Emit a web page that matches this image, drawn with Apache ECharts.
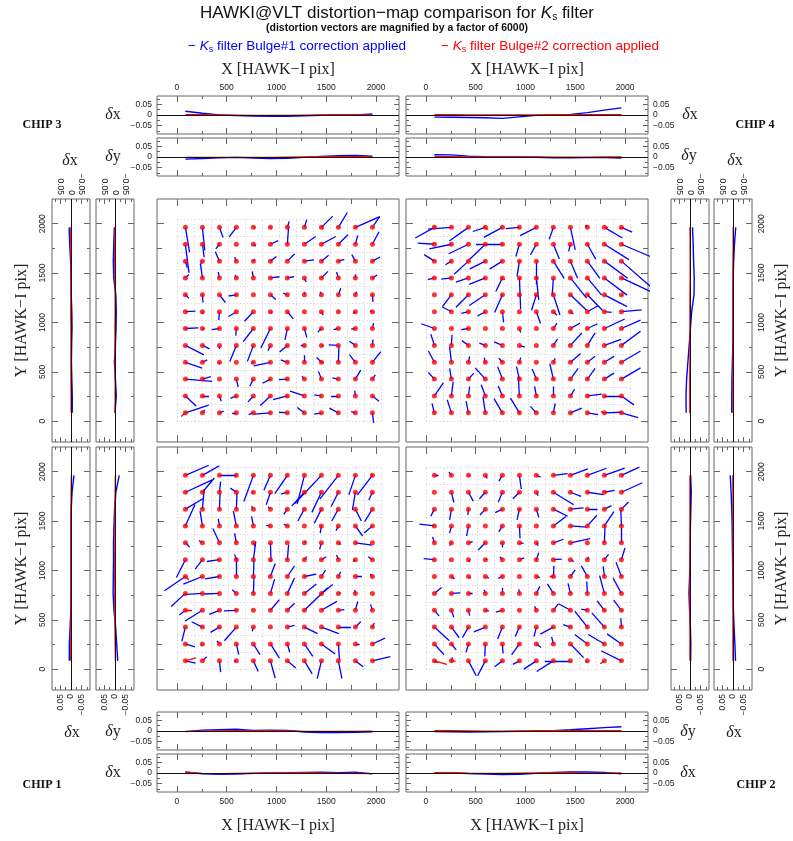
<!DOCTYPE html>
<html>
<head>
<meta charset="utf-8">
<script src="https://cdn.jsdelivr.net/npm/echarts@6/dist/echarts.min.js"></script>
<style>
  html, body { margin: 0; padding: 0; background: #fff; }
  #chart { width: 793px; height: 841px; }
</style>
</head>
<body>
<div id="chart"></div>
<script>
// ---------------------------------------------------------------------------
// Grid-point centres (HAWK-I pixels), used for both X and Y
const GRID_POS = [85, 256, 427, 597, 768, 939, 1109, 1280, 1451, 1621, 1792, 1963];
const DETECTOR = 2048;
const MAGNIFY = 6000;                 // vectors are drawn magnified by this factor
const POS_MAJOR = [0, 500, 1000, 1500, 2000];
const POS_MINOR = [250, 750, 1250, 1750];
const D_MAJOR = [-0.05, 0, 0.05];
const D_MINOR = [-0.075, -0.025, 0.025, 0.075];

// Bulge#1 residual distortion per grid point, in milli-pixels.
// One row per Y row, top row (Y = 1963) first; columns follow X.
const CHIP3_DX = [
  [7, 4, 6, -12, 2, 2, 3, 4, 19, 15, 41, 12],
  [6, 3, -6, 0, 4, 13, 2, 19, 24, 16, 4, 11],
  [3, -4, -7, -3, 3, 10, 12, 16, 12, 10, -6, 13],
  [6, -3, -2, -2, -2, 15, 11, 3, 11, -3, 0, 8],
  [6, 1, 10, -13, 0, 9, -7, 0, -2, 4, 2, 1],
  [17, 1, -1, -13, -15, 3, 10, 0, 3, 1, -4, -4],
  [22, 3, -13, -1, -17, -16, -4, 4, -6, -8, -7, 2],
  [31, 12, 0, -11, -10, -4, -13, -6, 3, -16, -10, 1],
  [28, 8, 0, 0, -4, -28, -11, 0, -8, 1, -10, 14],
  [45, 14, 0, 3, -6, -13, -14, -4, -5, -10, 9, 5],
  [18, 11, 3, -10, -9, -17, -24, -24, -12, -12, -1, 11],
  [39, 4, 7, -7, -8, -27, -14, -12, -12, -15, -7, 2]
];
const CHIP3_DY = [
  [-42, -39, -17, -16, 0, -1, 10, 13, 19, 25, 18, 18],
  [-48, -22, -8, 0, -3, 6, 29, 13, 13, 16, 15, 21],
  [-11, -7, 16, 7, 3, 8, 12, 2, 10, 3, 11, 7],
  [6, 22, 10, 5, 11, 2, 2, -7, 11, 10, 6, 5],
  [-6, -13, -13, -2, 0, -8, 3, 5, 5, 11, 5, -12],
  [1, -4, -14, -8, -16, -2, -12, 0, -6, 0, -3, 1],
  [1, 0, -2, -12, -22, -33, -19, -15, -6, -2, -1, 9],
  [-16, -6, -6, -27, -27, -9, -11, 0, 0, 1, 7, 10],
  [-10, 4, -3, 0, -2, -6, 4, 12, 8, 27, 13, 18],
  [-4, 4, 0, -13, -12, -7, -1, 5, 13, 2, 15, 7],
  [-17, 0, -9, -4, -10, -16, -6, 8, 2, 0, 9, -9],
  [13, 5, 3, 0, -3, -2, 1, 9, -2, 8, 2, -17]
];
const CHIP4_DX = [
  [-32, -39, -32, -21, -31, -23, -27, -7, 8, -3, 30, 18],
  [-28, -37, -33, -28, -44, -6, -10, 10, -3, 14, 41, 49],
  [-17, -10, -24, -26, -21, -4, 0, 18, 12, 21, 39, 49],
  [-11, -17, -21, -27, -11, 2, 4, -2, 27, 24, 38, 49],
  [0, -15, -21, -27, -13, 0, -8, 11, 27, 26, 38, 2],
  [0, -15, -12, -13, 2, 0, 7, 6, 5, 18, 12, 34],
  [-22, 0, -12, 0, 0, 2, 0, 6, 16, 17, 34, 32],
  [-6, 1, -11, -10, -14, 9, 0, 7, 19, 13, 28, 32],
  [-10, -3, 2, -2, -6, 2, 0, 3, 17, 13, 16, 32],
  [-10, -3, 9, -17, -8, -5, -7, -6, 13, 13, 16, 32],
  [15, 3, 2, -7, -7, -2, -3, 0, 7, 24, 29, 21],
  [-4, -7, -4, -4, -14, -15, -10, 3, 19, 18, 29, 28]
];
const CHIP4_DY = [
  [-18, -3, -23, -7, -17, -2, -14, -20, -38, 4, -18, -8],
  [2, -8, -16, -27, 0, -21, -18, -25, -12, -25, -26, -21],
  [11, -6, -22, -13, -13, -26, -39, -29, -29, -29, -29, -43],
  [-3, -2, -7, -11, -23, -53, -37, -29, -34, -29, -29, -23],
  [0, -20, -21, -18, -30, -3, -26, -34, -26, -27, -20, 0],
  [0, 8, -3, -7, -18, 0, -20, -6, -4, 10, -1, 3],
  [8, -1, -2, 0, 0, -7, 0, 9, 9, 8, 16, 14],
  [19, 18, 8, 4, 6, -3, 0, 11, 21, 21, 10, 24],
  [19, 26, 10, 8, 7, 8, 0, 7, 15, 10, 10, 19],
  [11, 18, 10, 19, 21, 21, 17, 26, 18, 18, 10, 19],
  [22, 24, 16, 19, 17, 33, 16, 16, 11, 3, 0, -15],
  [16, 22, 20, 27, 24, 25, 11, 16, 8, -3, 1, -8]
];
const CHIP1_DX = [
  [39, 28, 28, 0, -16, -11, -21, -12, -45, -31, -11, -25],
  [45, 20, 2, -10, -3, -7, -11, -21, -16, -12, -5, -6],
  [30, 3, 1, 1, -3, -4, -6, -11, -12, -11, 10, -13],
  [16, -4, -2, -5, -3, -7, -6, 0, -2, -4, 12, -14],
  [7, -6, -11, -3, 3, 1, 0, 3, -3, 4, 28, 0],
  [-15, -12, -21, -3, 4, 0, 2, 4, 8, -3, -4, -7],
  [-35, -32, -24, 0, 1, 8, 12, 20, 7, 4, 11, -4],
  [-24, -32, -26, -7, 1, 7, 12, 20, 19, 4, -1, 0],
  [-10, -29, -17, -21, 0, 15, 12, 39, 26, 10, 4, -3],
  [-6, -18, -15, -20, -2, 0, 12, 22, 29, 21, 9, 3],
  [16, -2, -4, 4, 11, 15, 4, 14, 23, 2, 7, 21],
  [17, 7, 2, -4, 8, 8, 14, 13, -7, 6, 13, 30]
];
const CHIP1_DY = [
  [17, 16, 0, 0, -44, -25, -31, -48, -48, -40, -33, -33],
  [21, 24, 18, 7, 0, -21, -3, -23, -34, -24, -30, -13],
  [18, 34, 27, 27, 5, 4, -9, -20, -24, -20, -20, -21],
  [36, 25, 12, 25, 16, 1, 3, 0, -12, -8, -17, -12],
  [-7, 4, 24, 16, -6, -31, 0, 3, -11, -3, -4, 0],
  [-30, -16, -3, 9, 31, -3, 25, 5, 5, 8, -3, 5],
  [-24, -13, -4, 32, 28, 22, 18, 4, 11, 8, 0, 4],
  [-22, -2, -1, 6, 28, 24, 26, 16, 15, 1, 6, 0],
  [-8, -18, -7, -1, 0, 18, 12, 38, 15, 1, 15, 10],
  [-24, 9, -9, -23, -7, 0, 3, -11, -11, 0, 9, 7],
  [-5, -3, 5, -18, -18, -24, -14, -21, -17, -27, 0, 10],
  [-4, 7, -19, -1, -18, -29, -12, -22, -30, -30, -10, 7]
];
const CHIP2_DX = [
  [7, -4, 3, 3, -6, 3, 7, 24, 29, 32, 34, 30],
  [0, 4, 8, -10, -7, -11, 3, 34, 18, 27, 17, 35],
  [-6, -3, -1, -9, -12, -4, 4, 24, 22, 17, 12, 12],
  [-25, -3, -3, 0, -6, 1, 0, 21, 27, 16, 16, -1],
  [-3, -3, 7, -12, 0, 7, 3, 17, 33, 0, 1, 0],
  [-18, 0, 2, 3, -4, 8, 4, 14, 6, 2, 7, 6],
  [0, 5, 4, 6, -7, 0, 6, 1, 8, -10, -2, -9],
  [12, 15, 7, -2, 0, -1, 6, -10, -4, -1, -8, -14],
  [8, 4, 2, 6, -11, 0, -3, 8, -20, -10, -12, -13],
  [25, 13, -10, -19, -8, -7, -4, -22, -12, -21, -21, -1],
  [16, 8, -4, -1, 1, -13, 8, -3, 22, -21, -27, -24],
  [6, 2, 13, -13, -13, -11, -21, -28, -43, -3, 0, -34]
];
const CHIP2_DY = [
  [0, 6, 0, -5, -10, -23, -3, 3, 11, 12, 12, 14],
  [0, -17, -15, -11, -17, -11, -6, -21, -7, -4, 3, 16],
  [-12, -18, -10, -10, -6, -18, -14, -12, 2, 0, 6, 12],
  [3, -12, -17, 0, -10, -21, 0, 16, -2, 18, 24, 28],
  [10, -5, 2, -12, -8, -1, -5, 6, 7, 0, 27, 25],
  [2, 0, -4, 1, 5, 3, 12, 1, -3, 5, 9, 20],
  [0, -4, -3, -3, -3, 0, -2, 18, 11, 18, 17, 24],
  [10, 1, 0, 6, 9, 7, 12, 16, 17, 20, 30, 26],
  [-10, -12, -9, -1, -3, 0, 7, 11, 11, 2, 16, 17],
  [-23, -18, -18, -8, -20, -16, -16, -12, 4, 27, 24, 15],
  [-18, -10, -14, -21, -16, -18, -6, 12, -23, 16, 16, 17],
  [-3, 6, -25, -25, -10, -6, -14, -18, 0, 0, 0, 17]
];

// Bulge#2 residuals that are large enough to show: [column, row from bottom, dx, dy] in milli-pixels
const CHIP3_RED = [[0, 0, -7, -6], [8, 3, 4, 0], [8, 11, 3, -3]];
const CHIP4_RED = [[0, 11, 0, 3], [3, 11, 4, -4], [9, 11, -4, 3], [10, 11, 6, 0], [11, 11, -3, -3], [4, 8, 4, -3], [10, 0, -6, 2]];
const CHIP1_RED = [[0, 0, 18, 5], [0, 3, 11, 0], [0, 5, 6, -6], [3, 11, -3, -3], [11, 11, -3, 2]];
const CHIP2_RED = [[0, 0, 21, -6], [1, 0, 7, -1], [7, 5, -6, 0], [10, 0, -7, -5]];

// Mean residual profiles (pixels) at the grid positions: blue = Bulge#1, red = Bulge#2
const C3_DX_VS_X_B = [0.018, 0.008, 0.000, -0.003, -0.005, -0.006, -0.006, -0.004, -0.001, 0.001, 0.000, 0.005];
const C3_DX_VS_X_R = [0.002, 0.001, 0.000, -0.001, -0.002, -0.002, -0.002, -0.001, 0.000, 0.001, 0.000, 0.002];
const C3_DY_VS_X_B = [-0.010, -0.007, -0.004, -0.002, -0.005, -0.007, -0.006, -0.002, 0.003, 0.006, 0.007, 0.004];
const C3_DY_VS_X_R = [-0.002, -0.002, -0.002, -0.002, -0.002, -0.002, -0.001, 0.000, 0.001, 0.001, 0.001, 0.001];
const C3_DX_VS_Y_B = [-0.006, -0.006, -0.004, -0.002, -0.003, -0.005, -0.004, -0.001, 0.000, 0.002, 0.006, 0.009];
const C3_DX_VS_Y_R = [-0.001, -0.001, 0.000, 0.000, 0.000, 0.000, 0.001, 0.000, 0.000, 0.000, 0.001, 0.001];
const C3_DY_VS_Y_B = [0.000, -0.006, -0.002, 0.003, -0.002, -0.005, -0.006, -0.004, 0.006, 0.008, 0.006, 0.003];
const C3_DY_VS_Y_R = [0.000, -0.001, -0.001, 0.000, 0.000, 0.000, -0.001, -0.001, 0.000, 0.001, 0.001, 0.000];

const C4_DX_VS_X_B = [-0.010, -0.011, -0.012, -0.013, -0.016, -0.009, -0.002, -0.001, 0.003, 0.011, 0.023, 0.034];
const C4_DX_VS_X_R = [0.001, 0.001, 0.000, 0.000, 0.000, 0.000, 0.000, 0.001, 0.001, 0.001, 0.001, 0.001];
const C4_DY_VS_X_B = [0.011, 0.010, 0.004, 0.001, 0.000, 0.000, -0.001, -0.004, -0.004, -0.003, -0.003, -0.005];
const C4_DY_VS_X_R = [0.001, 0.001, 0.000, 0.000, 0.000, 0.000, 0.000, -0.001, -0.001, -0.001, 0.000, 0.000];
const C4_DX_VS_Y_B = [0.006, 0.006, 0.005, 0.003, 0.001, 0.000, 0.000, 0.000, -0.001, -0.003, -0.007, -0.013];
const C4_DX_VS_Y_R = [0.000, 0.000, 0.000, 0.000, 0.000, 0.000, 0.000, 0.000, 0.000, 0.000, -0.001, -0.001];
const C4_DY_VS_Y_B = [0.018, 0.019, 0.016, 0.010, 0.004, -0.002, -0.008, -0.019, -0.020, -0.017, -0.015, -0.012];
const C4_DY_VS_Y_R = [0.001, 0.001, 0.001, 0.000, 0.000, 0.000, 0.000, 0.000, -0.001, -0.001, -0.001, 0.000];

const C1_DX_VS_X_B = [0.005, -0.004, -0.006, -0.005, -0.002, 0.000, 0.001, 0.003, 0.004, 0.002, 0.004, -0.004];
const C1_DX_VS_X_R = [0.004, -0.002, -0.003, -0.002, -0.001, 0.000, 0.000, 0.001, 0.000, -0.002, -0.001, -0.003];
const C1_DY_VS_X_B = [-0.003, 0.004, 0.006, 0.008, 0.003, 0.004, 0.003, -0.005, -0.007, -0.007, -0.006, -0.004];
const C1_DY_VS_X_R = [-0.002, -0.001, 0.000, 0.001, 0.000, 0.001, 0.000, -0.002, -0.002, -0.002, -0.002, -0.001];
const C1_DX_VS_Y_B = [0.008, 0.008, 0.004, 0.001, 0.000, 0.000, 0.000, 0.000, 0.000, -0.001, -0.005, -0.014];
const C1_DX_VS_Y_R = [0.001, 0.001, 0.000, 0.000, 0.000, 0.000, 0.000, 0.000, 0.000, 0.000, -0.001, -0.002];
const C1_DY_VS_Y_B = [-0.013, -0.008, -0.003, 0.005, 0.009, 0.008, 0.007, 0.007, 0.005, 0.002, -0.004, -0.020];
const C1_DY_VS_Y_R = [-0.002, -0.001, 0.000, 0.001, 0.001, 0.001, 0.001, 0.000, 0.000, 0.000, -0.001, -0.002];

const C2_DX_VS_X_B = [0.002, 0.001, -0.003, -0.005, -0.007, -0.006, -0.002, 0.003, 0.005, 0.005, 0.003, -0.004];
const C2_DX_VS_X_R = [0.001, 0.001, -0.001, -0.002, -0.002, -0.001, 0.000, 0.001, 0.001, -0.002, -0.001, 0.000];
const C2_DY_VS_X_B = [-0.003, -0.004, -0.005, -0.004, -0.003, -0.002, -0.002, 0.002, 0.006, 0.011, 0.016, 0.020];
const C2_DY_VS_X_R = [0.002, 0.001, 0.000, -0.001, -0.001, 0.000, 0.001, 0.002, 0.002, 0.001, 0.001, 0.001];
const C2_DX_VS_Y_B = [-0.012, -0.009, -0.005, -0.002, 0.000, 0.001, 0.002, 0.003, 0.004, 0.006, 0.009, 0.013];
const C2_DX_VS_Y_R = [0.000, 0.000, 0.000, 0.000, 0.000, 0.000, 0.000, 0.000, 0.000, 0.000, 0.000, 0.001];
const C2_DY_VS_Y_B = [-0.003, -0.004, -0.002, 0.002, 0.005, 0.002, 0.000, -0.001, -0.002, -0.004, -0.006, -0.003];
const C2_DY_VS_Y_R = [0.000, 0.000, 0.000, 0.000, 0.001, 0.000, 0.000, 0.000, 0.000, 0.000, 0.000, 0.000];

// ---------------------------------------------------------------------------
// Styling and layout
const BLUE = '#0000ff', RED = '#ff0000', FRAME = '#666666';
const TICK_FONT = 'Liberation Sans', TICK_SIZE = 8.5, TICK_COLOR = '#222';
const LABEL_FONT = 'Liberation Serif';
const X_RANGE = [-200, 2230], Y_RANGE = [-210, 2250], D_RANGE = [-0.09, 0.09];
const PANEL_W = 242, PANEL_H = 243, STRIP = 38;
const COL_L = 157, COL_R = 406, ROW_T = 199, ROW_B = 447;

const grids = [], xAxes = [], yAxes = [], series = [], texts = [];

function fmt(v) {
  if (v === 0) return '0';
  return v < 0 ? '\u2212' + String(Math.abs(v)) : String(v);
}

function addGrid(left, top, width, height) {
  grids.push({ left, top, width, height, show: true, borderColor: FRAME, borderWidth: 1,
    backgroundColor: 'transparent', containLabel: false });
  return grids.length - 1;
}

// one side of a frame: long ticks (optionally labelled) plus short ticks
function side(list, gi, position, range, inverse, major, minor, majLen, minLen, label) {
  const base = { type: 'value', gridIndex: gi, position, min: range[0], max: range[1], inverse: !!inverse,
    axisLine: { show: false, onZero: false }, splitLine: { show: false }, splitArea: { show: false } };
  list.push(Object.assign({}, base, {
    axisTick: { show: true, inside: true, length: majLen, customValues: major, lineStyle: { color: FRAME, width: 1 } },
    axisLabel: label ? { show: true, customValues: major, formatter: fmt, rotate: label.rotate || 0,
      margin: label.margin, fontFamily: TICK_FONT, fontSize: TICK_SIZE, color: TICK_COLOR } : { show: false }
  }));
  const idx = list.length - 1;
  list.push(Object.assign({}, base, {
    axisTick: { show: true, inside: true, length: minLen, customValues: minor, lineStyle: { color: FRAME, width: 1 } },
    axisLabel: { show: false }
  }));
  return idx;
}

function vectorPanel(left, top, dxRows, dyRows, redList) {
  const gi = addGrid(left, top, PANEL_W, PANEL_H);
  const xi = side(xAxes, gi, 'bottom', X_RANGE, false, POS_MAJOR, POS_MINOR, 7, 5, null);
  side(xAxes, gi, 'top', X_RANGE, false, POS_MAJOR, POS_MINOR, 7, 5, null);
  const yi = side(yAxes, gi, 'left', Y_RANGE, false, POS_MAJOR, POS_MINOR, 7, 5, null);
  side(yAxes, gi, 'right', Y_RANGE, false, POS_MAJOR, POS_MINOR, 7, 5, null);
  const scale = MAGNIFY / 1000;
  const n = GRID_POS.length;

  // dotted cell boundaries
  const cells = [];
  for (let k = 0; k <= n; k++) {
    const e = k * DETECTOR / n;
    cells.push({ coords: [[e, 0], [e, DETECTOR]] });
    cells.push({ coords: [[0, e], [DETECTOR, e]] });
  }
  series.push({ type: 'lines', coordinateSystem: 'cartesian2d', xAxisIndex: xi, yAxisIndex: yi,
    data: cells, silent: true, z: 1, animation: false,
    lineStyle: { color: '#cfcfcf', width: 0.8, type: [1.5, 2], opacity: 1 } });

  const blue = [], dots = [];
  for (let r = 0; r < n; r++) {
    for (let c = 0; c < n; c++) {
      const x = GRID_POS[c], y = GRID_POS[n - 1 - r];
      blue.push({ coords: [[x, y], [x + dxRows[r][c] * scale, y + dyRows[r][c] * scale]] });
      dots.push([x, y]);
    }
  }
  series.push({ type: 'lines', coordinateSystem: 'cartesian2d', xAxisIndex: xi, yAxisIndex: yi,
    data: blue, silent: true, z: 2, animation: false,
    lineStyle: { color: BLUE, width: 1.3, opacity: 1 } });

  const red = redList.map(([c, r, dx, dy]) => {
    const x = GRID_POS[c], y = GRID_POS[r];
    return { coords: [[x, y], [x + dx * scale, y + dy * scale]] };
  });
  series.push({ type: 'lines', coordinateSystem: 'cartesian2d', xAxisIndex: xi, yAxisIndex: yi,
    data: red, silent: true, z: 3, animation: false,
    lineStyle: { color: RED, width: 1.3, opacity: 1 } });

  series.push({ type: 'scatter', xAxisIndex: xi, yAxisIndex: yi, data: dots, symbol: 'circle',
    symbolSize: 5, itemStyle: { color: RED }, silent: true, z: 4, animation: false });
}

function profileLines(xi, yi, blueData, redData, zeroKey) {
  series.push({ type: 'line', xAxisIndex: xi, yAxisIndex: yi, data: blueData, showSymbol: false,
    lineStyle: { color: BLUE, width: 1.4 }, silent: true, z: 3, animation: false,
    markLine: { silent: true, symbol: 'none', label: { show: false }, animation: false,
      lineStyle: { color: '#111', width: 1, type: 'solid' }, data: [{ [zeroKey]: 0 }] } });
  series.push({ type: 'line', xAxisIndex: xi, yAxisIndex: yi, data: redData, showSymbol: false,
    lineStyle: { color: RED, width: 1.4 }, silent: true, z: 4, animation: false });
}

// horizontal strip: residual vs X
function hStrip(left, top, blue, red, xLabels, dSide) {
  const gi = addGrid(left, top, PANEL_W, STRIP);
  const xi = side(xAxes, gi, 'bottom', X_RANGE, false, POS_MAJOR, POS_MINOR, 6, 3,
    xLabels === 'bottom' ? { margin: 5 } : null);
  side(xAxes, gi, 'top', X_RANGE, false, POS_MAJOR, POS_MINOR, 6, 3,
    xLabels === 'top' ? { margin: 4 } : null);
  const yi = side(yAxes, gi, 'left', D_RANGE, false, D_MAJOR, D_MINOR, 5, 3,
    dSide === 'left' ? { margin: 5 } : null);
  side(yAxes, gi, 'right', D_RANGE, false, D_MAJOR, D_MINOR, 5, 3,
    dSide === 'right' ? { margin: 5 } : null);
  profileLines(xi, yi, GRID_POS.map((p, i) => [p, blue[i]]), GRID_POS.map((p, i) => [p, red[i]]), 'yAxis');
}

// vertical strip: residual vs Y (positive residual to the left)
function vStrip(left, top, blue, red, yLabels, dLabels) {
  const gi = addGrid(left, top, STRIP, PANEL_H);
  const xi = side(xAxes, gi, 'bottom', D_RANGE, true, D_MAJOR, D_MINOR, 5, 3,
    dLabels === 'bottom' ? { margin: 4, rotate: 90 } : null);
  side(xAxes, gi, 'top', D_RANGE, true, D_MAJOR, D_MINOR, 5, 3,
    dLabels === 'top' ? { margin: 4, rotate: 90 } : null);
  const yi = side(yAxes, gi, 'left', Y_RANGE, false, POS_MAJOR, POS_MINOR, 6, 3,
    yLabels === 'left' ? { margin: 5, rotate: 90 } : null);
  side(yAxes, gi, 'right', Y_RANGE, false, POS_MAJOR, POS_MINOR, 6, 3,
    yLabels === 'right' ? { margin: 5, rotate: 90 } : null);
  profileLines(xi, yi, GRID_POS.map((p, i) => [blue[i], p]), GRID_POS.map((p, i) => [red[i], p]), 'xAxis');
}

// ---------------------------------------------------------------------------
// Chip 3 (top left)
vectorPanel(COL_L, ROW_T, CHIP3_DX, CHIP3_DY, CHIP3_RED);
hStrip(COL_L, 96, C3_DX_VS_X_B, C3_DX_VS_X_R, 'top', 'left');
hStrip(COL_L, 138, C3_DY_VS_X_B, C3_DY_VS_X_R, null, 'left');
vStrip(52, ROW_T, C3_DX_VS_Y_B, C3_DX_VS_Y_R, 'left', 'top');
vStrip(96, ROW_T, C3_DY_VS_Y_B, C3_DY_VS_Y_R, null, 'top');

// Chip 4 (top right)
vectorPanel(COL_R, ROW_T, CHIP4_DX, CHIP4_DY, CHIP4_RED);
hStrip(COL_R, 96, C4_DX_VS_X_B, C4_DX_VS_X_R, 'top', 'right');
hStrip(COL_R, 138, C4_DY_VS_X_B, C4_DY_VS_X_R, null, 'right');
vStrip(671, ROW_T, C4_DY_VS_Y_B, C4_DY_VS_Y_R, null, 'top');
vStrip(714, ROW_T, C4_DX_VS_Y_B, C4_DX_VS_Y_R, 'right', 'top');

// Chip 1 (bottom left)
vectorPanel(COL_L, ROW_B, CHIP1_DX, CHIP1_DY, CHIP1_RED);
hStrip(COL_L, 712, C1_DY_VS_X_B, C1_DY_VS_X_R, null, 'left');
hStrip(COL_L, 754, C1_DX_VS_X_B, C1_DX_VS_X_R, 'bottom', 'left');
vStrip(52, ROW_B, C1_DX_VS_Y_B, C1_DX_VS_Y_R, 'left', 'bottom');
vStrip(96, ROW_B, C1_DY_VS_Y_B, C1_DY_VS_Y_R, null, 'bottom');

// Chip 2 (bottom right)
vectorPanel(COL_R, ROW_B, CHIP2_DX, CHIP2_DY, CHIP2_RED);
hStrip(COL_R, 712, C2_DY_VS_X_B, C2_DY_VS_X_R, null, 'right');
hStrip(COL_R, 754, C2_DX_VS_X_B, C2_DX_VS_X_R, 'bottom', 'right');
vStrip(671, ROW_B, C2_DY_VS_Y_B, C2_DY_VS_Y_R, null, 'bottom');
vStrip(714, ROW_B, C2_DX_VS_Y_B, C2_DX_VS_Y_R, 'right', 'bottom');

// ---------------------------------------------------------------------------
// Text
function text(x, y, str, style, rotation) {
  texts.push({ type: 'text', x, y, rotation: rotation || 0, silent: true, z: 10,
    style: Object.assign({ text: str, align: 'center', verticalAlign: 'middle', fill: '#111' }, style) });
}
const SUB = { fontSize: 10, lineHeight: 10, padding: [9, 0, 0, 0] };
text(397, 13, 'HAWKI@VLT distortion\u2212map comparison for {k|K}{s|s} filter',
  { fontFamily: TICK_FONT, fontSize: 17, lineHeight: 20,
    rich: { k: { fontFamily: TICK_FONT, fontSize: 17, fontStyle: 'italic', lineHeight: 20 },
            s: Object.assign({ fontFamily: TICK_FONT }, SUB) } });
text(397, 28, '(distortion vectors are magnified by a factor of 6000)',
  { fontFamily: TICK_FONT, fontSize: 10.5, fontWeight: 'bold' });
const legendRich = (col) => ({
  k: { fontFamily: TICK_FONT, fontSize: 13.5, fontStyle: 'italic', fill: col, lineHeight: 18 },
  s: { fontFamily: TICK_FONT, fontSize: 9, lineHeight: 9, padding: [8, 0, 0, 0], fill: col }
});
text(188, 46, '\u2212 {k|K}{s|s} filter Bulge#1 correction applied',
  { fontFamily: TICK_FONT, fontSize: 13.5, lineHeight: 18, fill: BLUE, align: 'left', rich: legendRich(BLUE) });
text(441, 46, '\u2212 {k|K}{s|s} filter Bulge#2 correction applied',
  { fontFamily: TICK_FONT, fontSize: 13.5, lineHeight: 18, fill: RED, align: 'left', rich: legendRich(RED) });

const chipStyle = { fontFamily: LABEL_FONT, fontSize: 12, fontWeight: 'bold' };
text(42, 125, 'CHIP 3', chipStyle);
text(755, 125, 'CHIP 4', chipStyle);
text(42, 785, 'CHIP 1', chipStyle);
text(756, 785, 'CHIP 2', chipStyle);

const axisTitle = { fontFamily: LABEL_FONT, fontSize: 16, fill: '#222' };
const XT = 'X [HAWK\u2212I pix]', YT = 'Y [HAWK\u2212I pix]';
text(COL_L + PANEL_W / 2, 70, XT, axisTitle);
text(COL_R + PANEL_W / 2, 70, XT, axisTitle);
text(COL_L + PANEL_W / 2, 826, XT, axisTitle);
text(COL_R + PANEL_W / 2, 826, XT, axisTitle);
text(22, ROW_T + PANEL_H / 2, YT, axisTitle, Math.PI / 2);
text(22, ROW_B + PANEL_H / 2, YT, axisTitle, Math.PI / 2);
text(782, ROW_T + PANEL_H / 2, YT, axisTitle, Math.PI / 2);
text(782, ROW_B + PANEL_H / 2, YT, axisTitle, Math.PI / 2);

const deltaStyle = { fontFamily: LABEL_FONT, fontSize: 16, fill: '#222',
  rich: { d: { fontFamily: LABEL_FONT, fontSize: 16, fontStyle: 'italic', fill: '#222' } } };
const DX = '{d|\u03b4}x', DY = '{d|\u03b4}y';
text(113, 115, DX, deltaStyle);
text(113, 157, DY, deltaStyle);
text(70, 161, DX, deltaStyle);
text(690, 115, DX, deltaStyle);
text(689, 156, DY, deltaStyle);
text(735, 161, DX, deltaStyle);
text(72, 733, DX, deltaStyle);
text(113, 732, DY, deltaStyle);
text(113, 773, DX, deltaStyle);
text(688, 732, DY, deltaStyle);
text(734, 733, DX, deltaStyle);
text(688, 773, DX, deltaStyle);

// ---------------------------------------------------------------------------
const chart = echarts.init(document.getElementById('chart'), null, { renderer: 'canvas', width: 793, height: 841 });
chart.setOption({
  backgroundColor: '#ffffff',
  animation: false,
  grid: grids,
  xAxis: xAxes,
  yAxis: yAxes,
  series: series,
  graphic: { elements: texts }
});
</script>
</body>
</html>
